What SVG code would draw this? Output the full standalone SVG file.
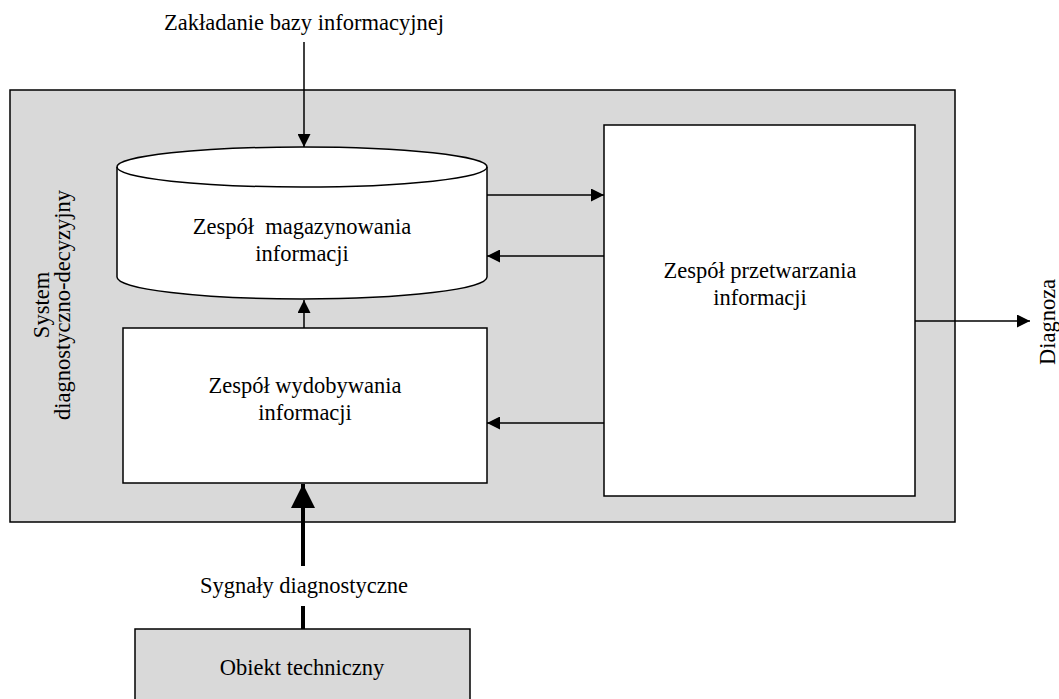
<svg xmlns="http://www.w3.org/2000/svg" width="1059" height="699" viewBox="0 0 1059 699">
<style>
text{font-family:"Liberation Serif","Times New Roman",serif;font-size:22.5px;fill:#000;text-anchor:middle;white-space:pre}
.box{fill:#fff;stroke:#000;stroke-width:1.5}
.gray{fill:#d9d9d9;stroke:#000;stroke-width:1.5}
.ln{stroke:#000;stroke-width:1.5;fill:none}
</style>
<defs>
<marker id="ah" viewBox="0 0 10 10" refX="10" refY="5" markerWidth="13" markerHeight="13" markerUnits="userSpaceOnUse" orient="auto"><path d="M0,0 L10,5 L0,10 z" fill="#000"/></marker>
<marker id="ahb" viewBox="0 0 10 10" refX="10" refY="5" markerWidth="24" markerHeight="24" markerUnits="userSpaceOnUse" orient="auto"><path d="M0,0 L10,5 L0,10 z" fill="#000"/></marker>
</defs>
<g id="system">
<rect class="gray" x="10" y="90" width="945" height="432"/>
<text transform="translate(49,305) rotate(-90)">System</text>
<text transform="translate(70,305) rotate(-90)">diagnostyczno-decyzyjny</text>
</g>
<g id="magazynowanie">
<path class="box" d="M117,167 L117,277 A185,22 0 0 0 487,277 L487,167 A185,20 0 0 0 117,167 Z"/>
<path class="ln" d="M117,167 A185,20 0 0 0 487,167"/>
<text x="302" y="234" xml:space="preserve">Zespół  magazynowania</text>
<text x="302" y="261">informacji</text>
</g>
<g id="przetwarzanie">
<rect class="box" x="604" y="125" width="311" height="371"/>
<text x="760" y="278">Zespół przetwarzania</text>
<text x="760" y="305">informacji</text>
</g>
<g id="wydobywanie">
<rect class="box" x="123" y="328" width="364" height="155"/>
<text x="305" y="393">Zespół wydobywania</text>
<text x="305" y="420">informacji</text>
</g>
<g id="obiekt">
<rect class="gray" x="135" y="629" width="335" height="80"/>
<text x="302" y="675">Obiekt techniczny</text>
</g>
<g id="labels">
<text x="304" y="30">Zakładanie bazy informacyjnej</text>
<text x="304" y="593">Sygnały diagnostyczne</text>
<text transform="translate(1055,322) rotate(-90)">Diagnoza</text>
</g>
<g id="connectors">
<line class="ln" x1="304" y1="42" x2="304" y2="147" marker-end="url(#ah)"/>
<line class="ln" x1="487" y1="195" x2="604" y2="195" marker-end="url(#ah)"/>
<line class="ln" x1="604" y1="256" x2="487" y2="256" marker-end="url(#ah)"/>
<line class="ln" x1="304" y1="328" x2="304" y2="300" marker-end="url(#ah)"/>
<line class="ln" x1="604" y1="423" x2="487" y2="423" marker-end="url(#ah)"/>
<line class="ln" x1="915" y1="321" x2="1030" y2="321" marker-end="url(#ah)"/>
<line stroke="#000" stroke-width="4" x1="303" y1="566" x2="303" y2="484" marker-end="url(#ahb)"/>
<line stroke="#000" stroke-width="4" x1="303" y1="606" x2="303" y2="629"/>
</g>
</svg>
